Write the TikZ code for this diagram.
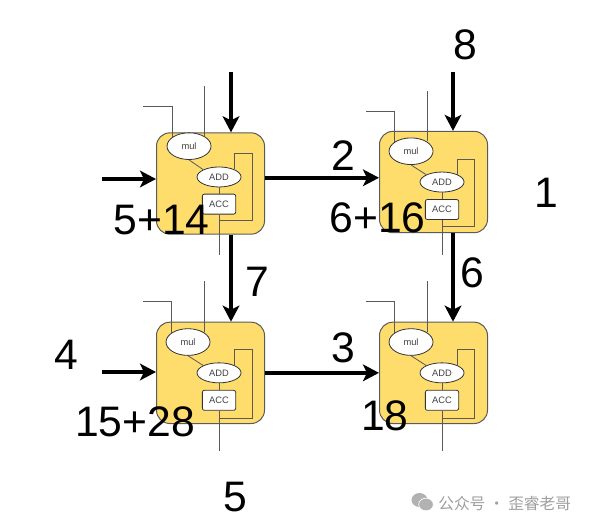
\documentclass[tikz,border=0pt]{standalone}
\usepackage{fontspec}
\usepackage{xcolor}
\usepackage{tikz}
\usetikzlibrary{shapes.geometric, arrows.meta, positioning}
\setmainfont{Liberation Sans}
\newfontfamily\cjkfont{Noto Sans CJK SC}
\definecolor{cellcolor}{HTML}{FFDD6C}
\definecolor{edgecolor}{HTML}{5A5A5A}

\begin{document}
\begin{tikzpicture}[
  x=0.75pt, y=-0.75pt,
  cell/.style={rectangle, rounded corners=10pt, draw=edgecolor, fill=cellcolor, line width=0.75pt,
               inner sep=0pt, minimum width=81pt, minimum height=76pt},
  oval/.style={ellipse, draw=black!80, fill=white, line width=0.6pt, inner sep=0pt,
               font=\fontsize{7}{8}\selectfont, text=black!75},
  mulop/.style={oval, minimum width=33pt, minimum height=20pt},
  addop/.style={oval, minimum width=33pt, minimum height=15pt},
  accreg/.style={rectangle, rounded corners=1.5pt, draw=black!80, fill=white, line width=0.6pt, inner sep=0pt,
                 minimum width=25pt, minimum height=15pt,
                 font=\fontsize{7}{8}\selectfont, text=black!75},
  wire/.style={draw=edgecolor, line width=0.6pt},
  arrow/.style={-{Stealth[length=12pt, width=12.5pt, inset=3pt]}, line width=2.9pt},
  num/.style={inner sep=0pt, font=\fontsize{32}{36}\selectfont},
]
\useasboundingbox (0,0) rectangle (590,526);

\node[cell] (cellA) at (210.5,183.5) {};
\node[cell, right=85.5pt of cellA, yshift=1.1pt] (cellB) {};
\node[cell, below=65.25pt of cellA] (cellC) {};
\node[cell, right=85.5pt of cellC] (cellD) {};

\node[addop, at=(cellA), xshift=6.4pt, yshift=4.9pt] (addA) {ADD};
\node[addop, at=(cellB), xshift=6.4pt] (addB) {ADD};
\node[addop, at=(cellC), xshift=6.4pt] (addC) {ADD};
\node[addop, at=(cellD), xshift=6.4pt] (addD) {ADD};

\node[mulop, above=5pt of addA, xshift=-22.5pt] (mulA) {mul};
\node[mulop, above=5pt of addB, xshift=-23.25pt] (mulB) {mul};
\node[mulop, above=5pt of addC, xshift=-23.25pt] (mulC) {mul};
\node[mulop, above=5pt of addD, xshift=-23.25pt] (mulD) {mul};

\node[accreg, below=4.75pt of addA] (accA) {ACC};
\node[accreg, below=5pt of addB] (accB) {ACC};
\node[accreg, below=5pt of addC] (accC) {ACC};
\node[accreg, below=5pt of addD] (accD) {ACC};

% free ends of the thin wires
\coordinate (inA) at (143,106);   \coordinate (cfgA) at (204,86);
\coordinate (inB) at (366,111);   \coordinate (cfgB) at (427,91);
\coordinate (inC) at (143,301);   \coordinate (cfgC) at (204,281);
\coordinate (inD) at (366,301);   \coordinate (cfgD) at (427,281);
\coordinate (loopA) at (252,153); \coordinate (loopB) at (474,159);
\coordinate (loopC) at (252,349); \coordinate (loopD) at (474,349);
\coordinate[below=4.5pt of accA] (backA);  \coordinate[below=30pt of accA] (outA);
\coordinate[below=5pt of accB] (backB);    \coordinate[below=26pt of accB] (outB);
\coordinate[below=5.5pt of accC] (backC);  \coordinate[below=30pt of accC] (outC);
\coordinate[below=5.5pt of accD] (backD);  \coordinate[below=30pt of accD] (outD);

\draw[wire] (inA) -| (mulA.150); \draw[wire] (cfgA) -- (cfgA |- mulA.33);
\draw[wire] (inB) -| (mulB.150); \draw[wire] (cfgB) -- (cfgB |- mulB.33);
\draw[wire] (inC) -| (mulC.150); \draw[wire] (cfgC) -- (cfgC |- mulC.33);
\draw[wire] (inD) -| (mulD.150); \draw[wire] (cfgD) -- (cfgD |- mulD.33);

\draw[wire] (mulA.south) -- (addA.north west); \draw[wire] (addA) -- (accA);
\draw[wire] (mulB.south) -- (addB.north west); \draw[wire] (addB) -- (accB);
\draw[wire] (mulC.south) -- (addC.north west); \draw[wire] (addC) -- (accC);
\draw[wire] (mulD.south) -- (addD.north west); \draw[wire] (addD) -- (accD);

\draw[wire] (addA.26) |- (loopA) |- (backA); \draw[wire] (accA) -- (outA);
\draw[wire] (addB.26) |- (loopB) |- (backB); \draw[wire] (accB) -- (outB);
\draw[wire] (addC.26) |- (loopC) |- (backC); \draw[wire] (accC) -- (outC);
\draw[wire] (addD.26) |- (loopD) |- (backD); \draw[wire] (accD) -- (outD);

\coordinate (topA) at (231,72);  \coordinate (topB) at (453,72);
\coordinate (leftA) at (102,179); \coordinate (leftC) at (102,372);

\draw[arrow] (topA)--(topA |- cellA.north);
\draw[arrow] (topB)--(topB |- cellB.north);
\draw[arrow] (leftA)--(leftA -| cellA.west);
\draw[arrow] (leftC)--(leftC -| cellC.west);
\draw[arrow] (cellA.6)--(cellA.6 -| cellB.west);
\draw[arrow] (cellC)--(cellD);
\draw[arrow] (topA |- cellA.south)--(topA |- cellC.north);
\draw[arrow] (topB |- cellB.south)--(topB |- cellD.north);

\node[num] (n8) at (465,45) {8};
\node[num] (n2) at (343,156) {2};
\node[num] (n1) at (546,193) {1};
\node[num] (sumA) at (161.5,220) {5+14};
\node[num] (sumB) at (377.5,218) {6+16};
\node[num] (n7) at (257,282) {7};
\node[num] (n6) at (472,273) {6};
\node[num] (n4) at (66,355) {4};
\node[num] (n3) at (343,348) {3};
\node[num] (sumC) at (135,422) {15+28};
\node[num] (sumD) at (385,416) {18};
\node[num] (n5) at (235,497) {5};

\node[ellipse, fill=black!30, inner sep=0pt, minimum width=12pt, minimum height=10.5pt] (chatL) at (419.5,500) {};
\node[ellipse, fill=black!30, draw=white, line width=0.5pt, inner sep=0pt, minimum width=11pt, minimum height=9.5pt] (chatR) at (426,504.5) {};
\node[inner sep=0pt, anchor=west, text=black!38, font=\cjkfont\fontsize{11.8}{14}\selectfont] (mark) at (438,503) {公众号 · 歪睿老哥};
\end{tikzpicture}
\end{document}
